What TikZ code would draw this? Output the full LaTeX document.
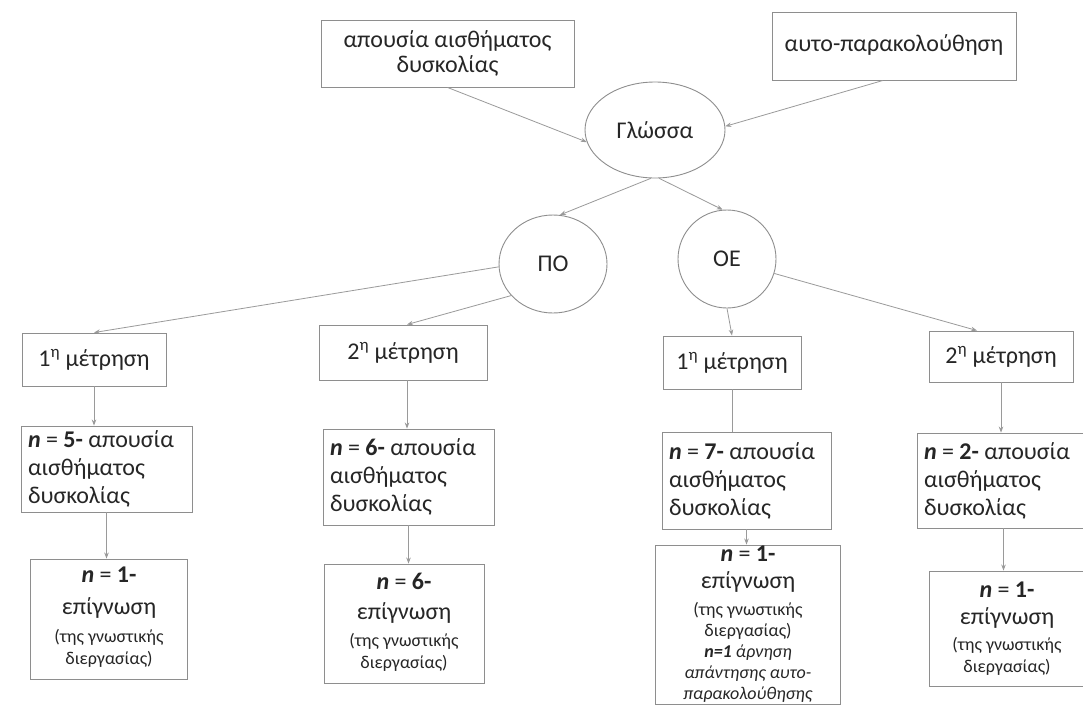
\documentclass[tikz,border=0pt]{standalone}
\usepackage{fontspec}
\setmainfont{Carlito}
\usetikzlibrary{shapes.geometric,arrows.meta,calc}
\definecolor{boxc}{HTML}{8E8E8E}
\definecolor{linec}{HTML}{9A9A9A}
\definecolor{txtc}{HTML}{262626}
\begin{document}
\begin{tikzpicture}[x=1pt,y=-1pt,
  box/.style={draw=boxc, line width=0.9pt, rectangle, inner sep=0pt, text=txtc},
  oval/.style={draw=boxc, line width=0.9pt, ellipse, inner sep=0pt, text=txtc},
  big/.style={font=\fontsize{24}{28}\selectfont},
  small/.style={font=\fontsize{18}{22}\selectfont},
  nbox/.style={box, big, align=flush left, inner xsep=7pt},
  ln/.style={text=txtc, anchor=mid, inner sep=0pt},
  conn/.style={draw=linec, line width=0.8pt, -{Stealth[length=6pt,width=4.5pt]}},
  plain/.style={draw=linec, line width=0.8pt},
]
\fill[white] (0,0) rectangle (1083,707);
\useasboundingbox (0,0) rectangle (1083,707);

% top level
\node[box, font=\fontsize{24}{25}\selectfont, align=center, minimum width=253pt, minimum height=67pt] (TL) at (447.5,53.5) {};
\node[ln, font=\fontsize{24}{25}\selectfont] (TLa) at (447.5,45) {απουσία αισθήματος};
\node[ln, font=\fontsize{24}{25}\selectfont] (TLb) at (447.5,70) {δυσκολίας};
\node[box, big, minimum width=244pt, minimum height=68pt] (TR) at (894,46) {};
\node[ln, big] (TRa) at (894,49) {αυτο-παρακολούθηση};
\node[oval, big, minimum width=140pt, minimum height=96pt] (G) at (655,130) {Γλώσσα};
\node[oval, big, minimum width=108pt, minimum height=98pt] (PO) at (553,264) {ΠΟ};
\node[oval, big, minimum width=98pt, minimum height=98pt] (OE) at (727,259) {ΟΕ};

% measurement boxes
\node[box, big, minimum width=144pt, minimum height=53pt] (L1) at (94,359.5) {1\textsuperscript{η} μέτρηση};
\node[box, big, minimum width=168pt, minimum height=55pt] (P2) at (403,352.5) {2\textsuperscript{η} μέτρηση};
\node[box, big, minimum width=138pt, minimum height=53pt] (O1) at (732,362.5) {1\textsuperscript{η} μέτρηση};
\node[box, big, minimum width=144pt, minimum height=51pt] (O2) at (1001,356.5) {2\textsuperscript{η} μέτρηση};

% n boxes
\node[nbox, text width=157pt, minimum height=86pt] (L5) at (106.5,469) {\textbf{\textit{n}} = \textbf{5-} απουσία\\αισθήματος\\δυσκολίας};
\node[nbox, text width=157pt, minimum height=96pt] (P6) at (408.5,477) {\textbf{\textit{n}} = \textbf{6-} απουσία\\αισθήματος\\δυσκολίας};
\node[nbox, text width=155pt, minimum height=97pt] (O7) at (746.5,480.5) {\textbf{\textit{n}} = \textbf{7-} απουσία\\αισθήματος\\δυσκολίας};
\node[nbox, text width=159pt, minimum height=95pt] (O2n) at (1003.5,480.5) {\textbf{\textit{n}} = \textbf{2-} απουσία\\αισθήματος\\δυσκολίας};

% awareness boxes
\node[box, minimum width=157pt, minimum height=120pt] (LE) at (108.5,619) {};
\node[ln, big] (LEa) at (109,580) {\textbf{\textit{n}} = \textbf{1-}};
\node[ln, big] (LEb) at (109,612) {επίγνωση};
\node[ln, small] (LEc) at (109,640) {(της γνωστικής};
\node[ln, small] (LEd) at (109,662) {διεργασίας)};

\node[box, minimum width=160pt, minimum height=119pt] (PE) at (404,623.5) {};
\node[ln, big] (PEa) at (404,587) {\textbf{\textit{n}} = \textbf{6-}};
\node[ln, big] (PEb) at (404,617) {επίγνωση};
\node[ln, small] (PEc) at (404,644) {(της γνωστικής};
\node[ln, small] (PEd) at (404,666) {διεργασίας)};

\node[box, minimum width=185pt, minimum height=159pt] (OEE) at (747.5,624.5) {};
\node[ln, big] (OEa) at (748,559) {\textbf{\textit{n}} = \textbf{1-}};
\node[ln, big] (OEb) at (748,586) {επίγνωση};
\node[ln, small] (OEc) at (748,613) {(της γνωστικής};
\node[ln, small] (OEd) at (748,634) {διεργασίας)};
\node[ln, small] (OEf) at (748,655) {\textbf{\textit{n=1}} \textit{άρνηση}};
\node[ln, small] (OEg) at (748,676) {\textit{απάντησης αυτο-}};
\node[ln, small] (OEh) at (748,697) {\textit{παρακολούθησης}};

\node[box, minimum width=156pt, minimum height=115pt] (RE) at (1007,628.5) {};
\node[ln, big] (REa) at (1007,595) {\textbf{\textit{n}} = \textbf{1-}};
\node[ln, big] (REb) at (1007,622) {επίγνωση};
\node[ln, small] (REc) at (1007,648) {(της γνωστικής};
\node[ln, small] (REd) at (1007,670) {διεργασίας)};

% connectors
\draw[conn] (TL.south) -- (G.190);
\draw[conn] ($(TR.south)+(-11,0)$) -- (G.3);
\draw[conn] (G.265) -- (PO.82);
\draw[conn] (G.275) -- (OE.95);
\draw[conn] (PO.183) -- (L1.north);
\draw[conn] (PO.217) -- ($(P2.north)+(4,0)$);
\draw[conn] (OE.south) -- (O1.north);
\draw[conn] (OE.-17) -- ($(O2.north)+(-24,0)$);
\draw[conn] (L1.south) -- (L1.south |- L5.north);
\draw[conn] ($(P2.south)+(4,0)$) -- ($(P2.south |- P6.north)+(4,0)$);
\draw[plain] (O1.south) -- (O1.south |- O7.north);
\draw[conn] (O2.south) -- (O2.south |- O2n.north);
\draw[conn] (L5.south) -- (L5.south |- LE.north);
\draw[conn] (P6.south) -- (P6.south |- PE.north);
\draw[conn] (O7.south) -- (O7.south |- OEE.north);
\draw[conn] (O2n.south) -- (O2n.south |- RE.north);
\end{tikzpicture}
\end{document}
